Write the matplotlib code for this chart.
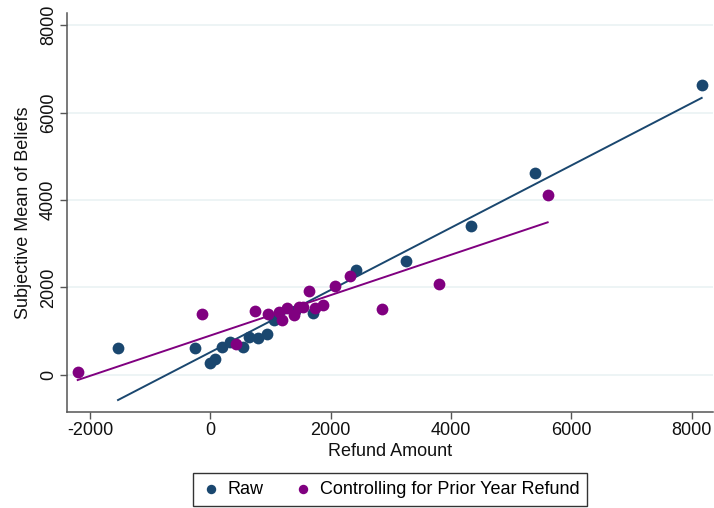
import matplotlib
matplotlib.use("Agg")
import matplotlib.pyplot as plt

plt.rcParams['font.family'] = ['Liberation Sans', 'DejaVu Sans']

# Binned means: raw refund vs. subjective mean of beliefs
raw_x = [-1534, -259, -5, 73, 194, 327, 543, 648, 788, 937, 1064, 1400,
         1712, 2416, 3248, 4338, 5391, 8167]
raw_y = [611, 618, 275, 366, 641, 755, 634, 856, 833, 924, 1245, 1450,
         1405, 2385, 2595, 3396, 4622, 6622]

# Binned means after controlling for prior-year refund
ctrl_x = [-2204, -138, 432, 743, 954, 1137, 1192, 1270, 1396, 1469, 1546,
          1640, 1735, 1878, 2078, 2322, 2859, 3796, 5607]
ctrl_y = [69, 1396, 709, 1465, 1389, 1442, 1252, 1533, 1359, 1556, 1556,
          1915, 1526, 1588, 2023, 2259, 1497, 2069, 4112]

# Fitted line endpoints
raw_fit_x = [-1534, 8167]
raw_fit_y = [-579, 6334]
ctrl_fit_x = [-2204, 5607]
ctrl_fit_y = [-121, 3487]

x_ticks = [-2000, 0, 2000, 4000, 6000, 8000]
y_ticks = [0, 2000, 4000, 6000, 8000]

navy = '#1a476f'
purple = '#800080'
fs = 13

W, H = 714, 508
fig = plt.figure(figsize=(W / 100, H / 100), dpi=100)
ax = fig.add_axes([66.7 / W, (H - 412) / H, (713 - 66.7) / W, (412 - 13) / H])

ax.set_xlim(-2387, 8355)
ax.set_ylim(-853, 8277)

for yt in y_ticks:
    ax.axhline(yt, color='#eaf2f3', lw=1.2, zorder=0)

ax.plot(raw_fit_x, raw_fit_y, color=navy, lw=1.4, zorder=2)
ax.plot(ctrl_fit_x, ctrl_fit_y, color=purple, lw=1.4, zorder=2)
ax.scatter(raw_x, raw_y, s=72, color=navy, linewidths=0, zorder=3, label='Raw')
ax.scatter(ctrl_x, ctrl_y, s=72, color=purple, linewidths=0, zorder=4,
           label='Controlling for Prior Year Refund')

ax.set_xticks(x_ticks)
ax.set_yticks(y_ticks)
ax.set_xticklabels([str(v) for v in x_ticks])
ax.set_yticklabels([str(v) for v in y_ticks], rotation=90, va='center')
ax.tick_params(axis='both', labelsize=fs, color='#555555', length=5,
               width=1, labelcolor='#111111', pad=2)

for side in ('top', 'right'):
    ax.spines[side].set_visible(False)
for side in ('left', 'bottom'):
    ax.spines[side].set_color('#555555')
    ax.spines[side].set_linewidth(1.1)

ax.set_xlabel('Refund Amount', fontsize=fs, color='#111111', labelpad=3)
ax.set_ylabel('Subjective Mean of Beliefs', fontsize=fs, color='#111111',
              labelpad=6)

leg = fig.legend(loc='center', bbox_to_anchor=(390 / W, 1 - 489.5 / H), ncol=2,
                 fontsize=fs, frameon=True, fancybox=False, framealpha=1,
                 edgecolor='#333333', markerscale=0.8, handletextpad=0.3,
                 columnspacing=1.6, borderpad=0.45, handlelength=1.2)
leg.get_frame().set_linewidth(1.0)

fig.savefig('out.png', dpi=100, facecolor='white')
